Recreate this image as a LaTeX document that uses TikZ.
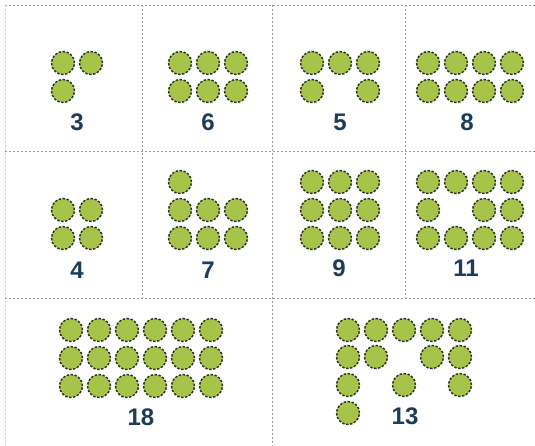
\documentclass[tikz,border=0pt]{standalone}
\usepackage{fontspec}
\setmainfont{Liberation Sans}
\definecolor{dotgreen}{HTML}{A6C44A}
\definecolor{dotedge}{HTML}{2A2A22}
\definecolor{numblue}{HTML}{1C3C5C}
\definecolor{gridgray}{HTML}{9A9A9A}
\begin{document}
\begin{tikzpicture}[x=1pt,y=-1pt,
  gridline/.style={draw=gridgray,dash pattern=on 2pt off 2pt,line width=0.5pt},
  ball/.style={circle,fill=dotgreen,draw=dotedge,dash pattern=on 2.4pt off 1.6pt,line width=1.4pt,minimum size=23pt,inner sep=0pt},
  num/.style={text=numblue,font=\bfseries\fontsize{24}{24}\selectfont,inner sep=0pt}]
\useasboundingbox (0,0) rectangle (535,446);
\fill[white] (0,0) rectangle (535,446);
% grid
\coordinate (tl) at (5,5); \coordinate (tr) at (535,5);
\draw[gridline] (tl) -- (tr);
\draw[gridline,draw=gridgray!50] (5,5) -- (5,446);
\draw[gridline] (5,151) -- (535,151);
\draw[gridline] (5,298) -- (535,298);
\draw[gridline] (142,5) -- (142,298);
\draw[gridline] (272,5) -- (272,446);
\draw[gridline] (405,5) -- (405,298);
% 3
\foreach \x/\y in {63/63,91/63,63/91} \node[ball] at (\x,\y) {};
\node[num] (n3) at (77,122) {3};
% 6
\foreach \x in {180,208,236} \foreach \y in {63,91} \node[ball] at (\x,\y) {};
\node[num] (n6) at (208,122) {6};
% 5
\foreach \x/\y in {312/63,340/63,368/63,312/91,368/91} \node[ball] at (\x,\y) {};
\node[num] (n5) at (340,122) {5};
% 8
\foreach \x in {428,456,484,512} \foreach \y in {63,91} \node[ball] at (\x,\y) {};
\node[num] (n8) at (467,122) {8};
% 4
\foreach \x in {63,91} \foreach \y in {210,238} \node[ball] at (\x,\y) {};
\node[num] (n4) at (77,270) {4};
% 7
\node[ball] at (180,182) {};
\foreach \x in {180,208,236} \foreach \y in {210,238} \node[ball] at (\x,\y) {};
\node[num] (n7) at (208,270) {7};
% 9
\foreach \x in {312,340,368} \foreach \y in {182,210,238} \node[ball] at (\x,\y) {};
\node[num] (n9) at (339,268) {9};
% 11
\foreach \x/\y in {428/182,456/182,484/182,512/182,428/210,484/210,512/210,428/238,456/238,484/238,512/238} \node[ball] at (\x,\y) {};
\node[num] (n11) at (466,268) {11};
% 18
\foreach \x in {71,99,127,155,183,211} \foreach \y in {330,358,386} \node[ball] at (\x,\y) {};
\node[num] (n18) at (141,417) {18};
% 13
\foreach \x/\y in {348/330,376/330,404/330,432/330,460/330,
                   348/357,376/357,432/357,460/357,
                   348/385,404/385,460/385,
                   348/413} \node[ball] at (\x,\y) {};
\node[num] (n13) at (405,416) {13};
\end{tikzpicture}
\end{document}
